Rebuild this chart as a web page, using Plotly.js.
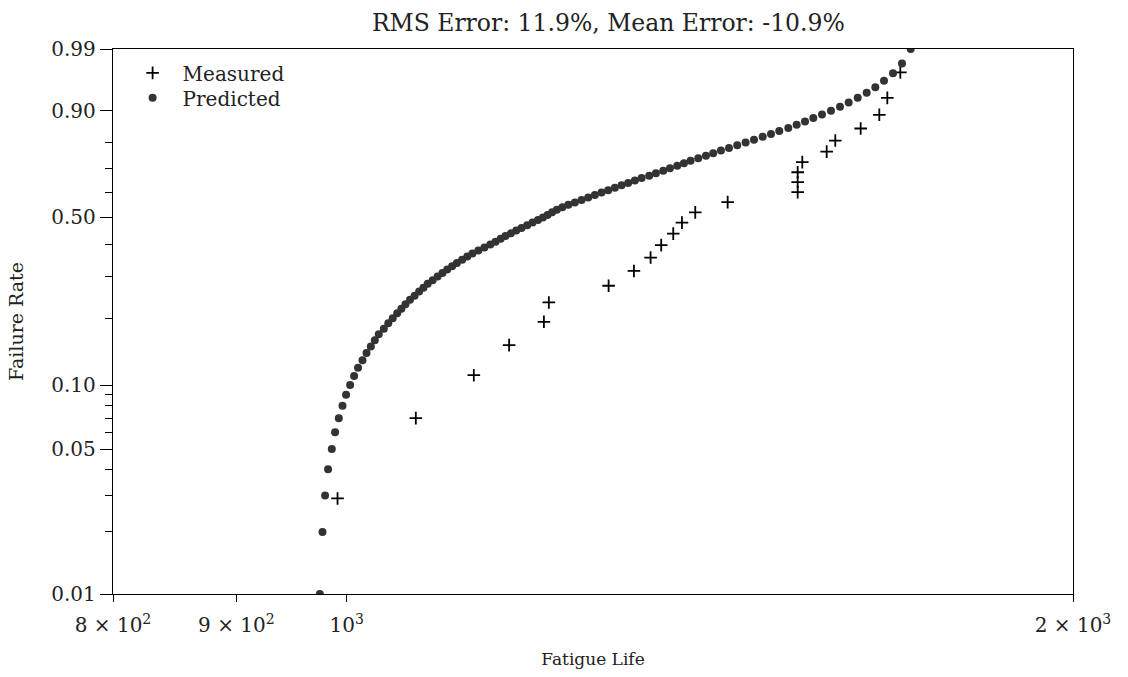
<!DOCTYPE html>
<html>
<head>
<meta charset="utf-8">
<script src="https://cdn.plot.ly/plotly-3.0.1.min.js"></script>
<style>
  html, body { margin: 0; padding: 0; background: #fff; }
  #chart { width: 1128px; height: 677px; }
</style>
</head>
<body>
<div id="chart"></div>
<script>
// Measured fatigue lives and their median-rank failure rates
const measuredLife = [991.2, 1068.1, 1128.9, 1167.6, 1207.0, 1212.7, 1283.9, 1315.3,
  1336.4, 1350.0, 1365.6, 1377.0, 1394.6, 1438.4, 1537.8, 1537.8, 1537.8, 1544.6,
  1581.0, 1594.0, 1633.1, 1662.4, 1675.2, 1696.1];
const measuredRate = [0.029, 0.070, 0.111, 0.152, 0.193, 0.234, 0.275, 0.316,
  0.357, 0.398, 0.439, 0.480, 0.520, 0.561, 0.602, 0.643, 0.684, 0.725,
  0.766, 0.807, 0.848, 0.889, 0.930, 0.971];

// Predicted fatigue lives at failure rates 0.01 ... 0.99
const predictedLife = [974.6, 977.1, 979.5, 982.3, 985.8, 988.9, 992.4, 995.9, 999.3, 1003.2,
  1007.0, 1010.8, 1015.1, 1019.0, 1023.2, 1027.1, 1031.0, 1036.0, 1040.4, 1044.8,
  1049.3, 1053.5, 1057.6, 1062.2, 1066.9, 1071.5, 1075.9, 1080.3, 1085.4, 1090.5,
  1095.6, 1100.6, 1105.8, 1110.8, 1116.4, 1121.9, 1127.4, 1133.8, 1140.4, 1146.8,
  1152.5, 1158.2, 1163.5, 1169.6, 1175.6, 1181.5, 1187.9, 1194.0, 1200.2, 1205.9,
  1211.2, 1216.5, 1222.0, 1228.5, 1235.5, 1243.2, 1251.2, 1259.1, 1267.2, 1275.3,
  1283.4, 1291.6, 1299.9, 1308.1, 1316.5, 1325.0, 1334.6, 1343.2, 1352.6, 1361.3,
  1370.8, 1379.6, 1388.4, 1398.6, 1408.9, 1418.7, 1429.2, 1440.2, 1451.6, 1463.3,
  1475.0, 1487.3, 1499.1, 1511.0, 1524.1, 1536.3, 1548.6, 1560.9, 1573.9, 1587.5,
  1601.2, 1614.5, 1628.5, 1642.5, 1656.1, 1669.9, 1684.3, 1698.8, 1713.0];
const predictedRate = [0.01, 0.02, 0.03, 0.04, 0.05, 0.06, 0.07, 0.08, 0.09, 0.10,
  0.11, 0.12, 0.13, 0.14, 0.15, 0.16, 0.17, 0.18, 0.19, 0.20,
  0.21, 0.22, 0.23, 0.24, 0.25, 0.26, 0.27, 0.28, 0.29, 0.30,
  0.31, 0.32, 0.33, 0.34, 0.35, 0.36, 0.37, 0.38, 0.39, 0.40,
  0.41, 0.42, 0.43, 0.44, 0.45, 0.46, 0.47, 0.48, 0.49, 0.50,
  0.51, 0.52, 0.53, 0.54, 0.55, 0.56, 0.57, 0.58, 0.59, 0.60,
  0.61, 0.62, 0.63, 0.64, 0.65, 0.66, 0.67, 0.68, 0.69, 0.70,
  0.71, 0.72, 0.73, 0.74, 0.75, 0.76, 0.77, 0.78, 0.79, 0.80,
  0.81, 0.82, 0.83, 0.84, 0.85, 0.86, 0.87, 0.88, 0.89, 0.90,
  0.91, 0.92, 0.93, 0.94, 0.95, 0.96, 0.97, 0.98, 0.99];

// Axis ticks
const rateTicks = [0.01, 0.05, 0.10, 0.50, 0.90, 0.99];
const rateTickText = ['0.01', '0.05', '0.10', '0.50', '0.90', '0.99'];
const rateMinorTicks = [0.02, 0.03, 0.04, 0.06, 0.07, 0.08, 0.09, 0.2, 0.3, 0.4, 0.6, 0.7, 0.8];
const lifeTicks = [800, 900, 1000, 2000];
const lifeTickText = ['8 × 10<sup>2</sup>', '9 × 10<sup>2</sup>', '10<sup>3</sup>', '2 × 10<sup>3</sup>'];
const lifeDecade = [1000];
const lifeRange = [800, 2000];
const rateRange = [0.01, 0.99];

const titleText = 'RMS Error: 11.9%, Mean Error: -10.9%';

// Weibull probability scale: ln(-ln(1 - p))
const wb = p => Math.log(-Math.log(1 - p));

const FONT = 'DejaVu Serif, Liberation Serif, serif';
const INK = '#222';

const traces = [
  {
    x: measuredLife, y: measuredRate.map(wb),
    type: 'scatter', mode: 'markers', name: 'Measured', legend: 'legend',
    marker: { symbol: 'cross-thin', size: 9, color: '#000', line: { width: 1.8, color: '#000' } }
  },
  {
    x: predictedLife, y: predictedRate.map(wb),
    type: 'scatter', mode: 'markers', name: 'Predicted', legend: 'legend2',
    marker: { symbol: 'circle', size: 8, color: '#333333', line: { width: 0 } }
  }
];

// legend rows, one legend box per series for tight row spacing
const legendBox = y => ({
  x: 0.010, y: y, xanchor: 'left', yanchor: 'top',
  bgcolor: 'rgba(0,0,0,0)', borderwidth: 0, itemwidth: 50,
  font: { family: FONT, size: 20, color: INK }
});

const layout = {
  width: 1128, height: 677,
  margin: { l: 113, r: 55, t: 49, b: 83 },
  paper_bgcolor: '#fff', plot_bgcolor: '#fff',
  font: { family: FONT, size: 20, color: INK },
  showlegend: true,
  title: {
    text: titleText, font: { family: FONT, size: 23.5, color: INK },
    x: 0.516, xref: 'paper', xanchor: 'center',
    y: 1 - 23 / 677, yref: 'container', yanchor: 'middle'
  },
  xaxis: {
    type: 'log', range: lifeRange.map(Math.log10),
    tickmode: 'array', tickvals: lifeTicks, ticktext: lifeTickText,
    ticks: 'outside', ticklen: 7, tickwidth: 1, tickcolor: '#000',
    ticklabelstandoff: 6,
    showline: true, mirror: true, linecolor: '#000', linewidth: 1.3,
    showgrid: false, zeroline: false,
    tickfont: { family: FONT, size: 20, color: INK },
    title: { text: 'Fatigue Life', font: { family: FONT, size: 17, color: INK }, standoff: 16 }
  },
  // longer tick mark at the decade
  xaxis2: {
    type: 'log', range: lifeRange.map(Math.log10), overlaying: 'x', side: 'bottom',
    tickmode: 'array', tickvals: lifeDecade,
    ticks: 'outside', ticklen: 12, tickwidth: 1, tickcolor: '#000',
    showline: false, showgrid: false, zeroline: false, showticklabels: false
  },
  yaxis: {
    range: rateRange.map(wb),
    tickmode: 'array', tickvals: rateTicks.map(wb), ticktext: rateTickText,
    ticks: 'outside', ticklen: 12, tickwidth: 1, tickcolor: '#000',
    minor: { tickmode: 'array', tickvals: rateMinorTicks.map(wb), ticks: 'outside', ticklen: 7, tickwidth: 1, tickcolor: '#000', showgrid: false },
    showline: true, mirror: true, linecolor: '#000', linewidth: 1.3,
    showgrid: false, zeroline: false,
    tickfont: { family: FONT, size: 20, color: INK },
    title: { text: 'Failure Rate', font: { family: FONT, size: 19, color: INK }, standoff: 22 }
  },
  legend: legendBox(0.992),
  legend2: legendBox(0.992 - 25 / 545)
};

Plotly.newPlot('chart', traces, layout, { staticPlot: true, displayModeBar: false });
</script>
</body>
</html>
